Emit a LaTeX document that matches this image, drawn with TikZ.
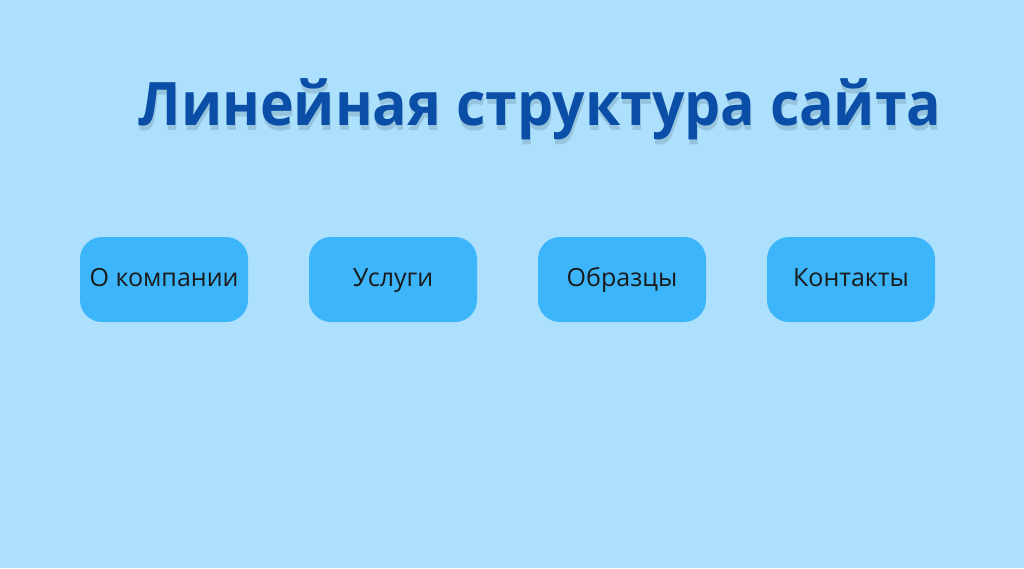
\documentclass[tikz,border=0pt]{standalone}
\usepackage{fontspec}
\setmainfont{Open Sans}
\usepackage{xcolor}
\usepackage{tikz}
\usetikzlibrary{shapes.geometric, arrows}
\definecolor{pagebg}{HTML}{ADE0FC}
\definecolor{boxblue}{HTML}{3DB5FA}
\definecolor{titleblue}{HTML}{0B4EA8}
\tikzstyle{menubox} = [rectangle, rounded corners=22pt, minimum width=168pt, minimum height=85pt, text centered, fill=boxblue, text=black!90, font=\fontsize{25}{30}\selectfont, text height=18pt, text depth=5pt]
\tikzstyle{headline} = [font=\fontsize{60}{70}\bfseries\selectfont, text=titleblue, anchor=base, xscale=0.952]
\tikzstyle{headshadow} = [font=\fontsize{60}{70}\bfseries\selectfont, text=black, anchor=base, xscale=0.952, opacity=0.12]

\begin{document}
\begin{tikzpicture}[x=1pt, y=-1pt, node distance=229pt]
\fill[pagebg] (0,0) rectangle (1024,568);
\useasboundingbox (0,0) rectangle (1024,568);
% soft shadow under the title
\node (titleshadow) [headshadow] at (541,130) {Линейная структура сайта};
\node (title) [headline] at (540,125) {Линейная структура сайта};

\node (about) [menubox] at (164,279.5) {О компании};
\node (services) [menubox, right of=about] {Услуги};
\node (samples) [menubox, right of=services] {Образцы};
\node (contacts) [menubox, right of=samples] {Контакты};
\end{tikzpicture}
\end{document}
